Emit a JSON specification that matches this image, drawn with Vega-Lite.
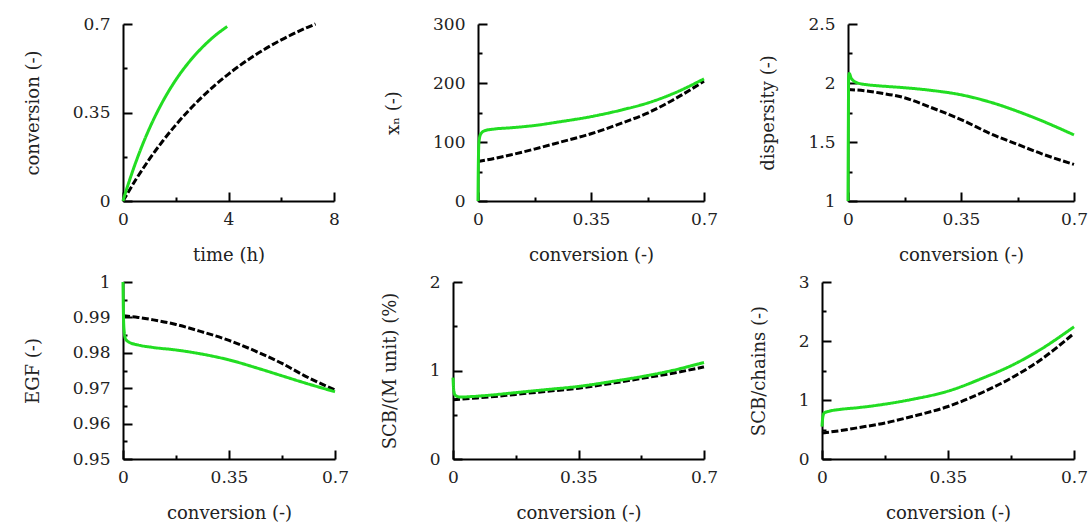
{
  "$schema": "https://vega.github.io/schema/vega-lite/v6.json",
  "padding": {"left": 24, "top": 15, "right": 0, "bottom": 0},
  "datasets": {
    "p1": [
      {"s": "det", "x": 0, "y": 0}, {"s": "det", "x": 0.5, "y": 0.0868}, {"s": "det", "x": 1, "y": 0.1653}, {"s": "det", "x": 1.5, "y": 0.2363}, {"s": "det", "x": 2, "y": 0.3006}, {"s": "det", "x": 3, "y": 0.4114}, {"s": "det", "x": 4, "y": 0.502}, {"s": "det", "x": 5, "y": 0.5763}, {"s": "det", "x": 6, "y": 0.6371}, {"s": "det", "x": 7, "y": 0.6869}, {"s": "det", "x": 7.3, "y": 0.7},
      {"s": "mc", "x": 0, "y": 0}, {"s": "mc", "x": 0.1, "y": 0.035}, {"s": "mc", "x": 0.25, "y": 0.0827}, {"s": "mc", "x": 0.5, "y": 0.1575}, {"s": "mc", "x": 0.75, "y": 0.2252}, {"s": "mc", "x": 1, "y": 0.2865}, {"s": "mc", "x": 1.5, "y": 0.392}, {"s": "mc", "x": 2, "y": 0.4785}, {"s": "mc", "x": 2.5, "y": 0.549}, {"s": "mc", "x": 3, "y": 0.607}, {"s": "mc", "x": 3.5, "y": 0.655}, {"s": "mc", "x": 3.95, "y": 0.69}
    ],
    "p2": [
      {"s": "det", "x": 0, "y": 67}, {"s": "det", "x": 0.05, "y": 72}, {"s": "det", "x": 0.1, "y": 78}, {"s": "det", "x": 0.175, "y": 88}, {"s": "det", "x": 0.25, "y": 99}, {"s": "det", "x": 0.35, "y": 114}, {"s": "det", "x": 0.45, "y": 133}, {"s": "det", "x": 0.525, "y": 149}, {"s": "det", "x": 0.6, "y": 170}, {"s": "det", "x": 0.7, "y": 203},
      {"s": "mc", "x": 0, "y": 0}, {"s": "mc", "x": 0.001, "y": 60}, {"s": "mc", "x": 0.003, "y": 100}, {"s": "mc", "x": 0.008, "y": 113}, {"s": "mc", "x": 0.02, "y": 119}, {"s": "mc", "x": 0.05, "y": 122}, {"s": "mc", "x": 0.1, "y": 124}, {"s": "mc", "x": 0.175, "y": 128}, {"s": "mc", "x": 0.25, "y": 134}, {"s": "mc", "x": 0.35, "y": 143}, {"s": "mc", "x": 0.45, "y": 155}, {"s": "mc", "x": 0.525, "y": 166}, {"s": "mc", "x": 0.6, "y": 181}, {"s": "mc", "x": 0.7, "y": 207}
    ],
    "p3": [
      {"s": "det", "x": 0, "y": 1.945}, {"s": "det", "x": 0.05, "y": 1.935}, {"s": "det", "x": 0.1, "y": 1.915}, {"s": "det", "x": 0.175, "y": 1.875}, {"s": "det", "x": 0.25, "y": 1.8}, {"s": "det", "x": 0.35, "y": 1.69}, {"s": "det", "x": 0.45, "y": 1.56}, {"s": "det", "x": 0.525, "y": 1.48}, {"s": "det", "x": 0.6, "y": 1.4}, {"s": "det", "x": 0.7, "y": 1.31},
      {"s": "mc", "x": 0, "y": 1}, {"s": "mc", "x": 0.001, "y": 1.6}, {"s": "mc", "x": 0.002, "y": 2.05}, {"s": "mc", "x": 0.004, "y": 2.08}, {"s": "mc", "x": 0.01, "y": 2.04}, {"s": "mc", "x": 0.03, "y": 2.0}, {"s": "mc", "x": 0.06, "y": 1.985}, {"s": "mc", "x": 0.1, "y": 1.975}, {"s": "mc", "x": 0.175, "y": 1.96}, {"s": "mc", "x": 0.25, "y": 1.94}, {"s": "mc", "x": 0.35, "y": 1.9}, {"s": "mc", "x": 0.45, "y": 1.83}, {"s": "mc", "x": 0.525, "y": 1.76}, {"s": "mc", "x": 0.6, "y": 1.68}, {"s": "mc", "x": 0.7, "y": 1.56}
    ],
    "p4": [
      {"s": "det", "x": 0, "y": 0.9905}, {"s": "det", "x": 0.05, "y": 0.99}, {"s": "det", "x": 0.1, "y": 0.9893}, {"s": "det", "x": 0.175, "y": 0.988}, {"s": "det", "x": 0.25, "y": 0.9862}, {"s": "det", "x": 0.35, "y": 0.9835}, {"s": "det", "x": 0.45, "y": 0.98}, {"s": "det", "x": 0.525, "y": 0.977}, {"s": "det", "x": 0.6, "y": 0.9735}, {"s": "det", "x": 0.7, "y": 0.9695},
      {"s": "mc", "x": 0, "y": 1.0}, {"s": "mc", "x": 0.001, "y": 0.993}, {"s": "mc", "x": 0.003, "y": 0.987}, {"s": "mc", "x": 0.008, "y": 0.984}, {"s": "mc", "x": 0.02, "y": 0.983}, {"s": "mc", "x": 0.05, "y": 0.9822}, {"s": "mc", "x": 0.1, "y": 0.9815}, {"s": "mc", "x": 0.175, "y": 0.9808}, {"s": "mc", "x": 0.25, "y": 0.9798}, {"s": "mc", "x": 0.35, "y": 0.978}, {"s": "mc", "x": 0.45, "y": 0.9755}, {"s": "mc", "x": 0.525, "y": 0.9735}, {"s": "mc", "x": 0.6, "y": 0.9715}, {"s": "mc", "x": 0.7, "y": 0.969}
    ],
    "p5": [
      {"s": "det", "x": 0, "y": 0.67}, {"s": "det", "x": 0.05, "y": 0.685}, {"s": "det", "x": 0.1, "y": 0.7}, {"s": "det", "x": 0.175, "y": 0.73}, {"s": "det", "x": 0.25, "y": 0.76}, {"s": "det", "x": 0.35, "y": 0.8}, {"s": "det", "x": 0.45, "y": 0.86}, {"s": "det", "x": 0.525, "y": 0.91}, {"s": "det", "x": 0.6, "y": 0.96}, {"s": "det", "x": 0.7, "y": 1.04},
      {"s": "mc", "x": 0, "y": 0.92}, {"s": "mc", "x": 0.002, "y": 0.78}, {"s": "mc", "x": 0.006, "y": 0.72}, {"s": "mc", "x": 0.02, "y": 0.7}, {"s": "mc", "x": 0.05, "y": 0.705}, {"s": "mc", "x": 0.1, "y": 0.72}, {"s": "mc", "x": 0.175, "y": 0.75}, {"s": "mc", "x": 0.25, "y": 0.78}, {"s": "mc", "x": 0.35, "y": 0.82}, {"s": "mc", "x": 0.45, "y": 0.88}, {"s": "mc", "x": 0.525, "y": 0.93}, {"s": "mc", "x": 0.6, "y": 0.99}, {"s": "mc", "x": 0.7, "y": 1.09}
    ],
    "p6": [
      {"s": "det", "x": 0, "y": 0.44}, {"s": "det", "x": 0.05, "y": 0.48}, {"s": "det", "x": 0.1, "y": 0.53}, {"s": "det", "x": 0.175, "y": 0.61}, {"s": "det", "x": 0.25, "y": 0.72}, {"s": "det", "x": 0.35, "y": 0.89}, {"s": "det", "x": 0.45, "y": 1.14}, {"s": "det", "x": 0.525, "y": 1.37}, {"s": "det", "x": 0.6, "y": 1.65}, {"s": "det", "x": 0.7, "y": 2.13},
      {"s": "mc", "x": 0, "y": 0.55}, {"s": "mc", "x": 0.002, "y": 0.7}, {"s": "mc", "x": 0.006, "y": 0.78}, {"s": "mc", "x": 0.02, "y": 0.81}, {"s": "mc", "x": 0.05, "y": 0.84}, {"s": "mc", "x": 0.1, "y": 0.87}, {"s": "mc", "x": 0.175, "y": 0.93}, {"s": "mc", "x": 0.25, "y": 1.01}, {"s": "mc", "x": 0.35, "y": 1.15}, {"s": "mc", "x": 0.45, "y": 1.38}, {"s": "mc", "x": 0.525, "y": 1.58}, {"s": "mc", "x": 0.6, "y": 1.83}, {"s": "mc", "x": 0.7, "y": 2.24}
    ]
  },
  "spacing": 9,
  "vconcat": [
    {
      "spacing": 144,
      "bounds": "flush",
      "hconcat": [
        {
          "width": 211, "height": 177,
          "data": {"name": "p1"},
          "mark": {"type": "line", "strokeWidth": 3, "interpolate": "monotone"},
          "encoding": {
            "x": {"field": "x", "type": "quantitative", "scale": {"domain": [0, 8], "nice": false},
              "axis": {"title": "time (h)", "values": [0, 2, 4, 6, 8],
                "labelExpr": "indexof([0,4,8], datum.value) >= 0 ? format(datum.value, '~g') : ''",
                "tickSize": {"condition": {"test": "indexof([0,4,8], datum.value) < 0", "value": -4}, "value": -9}}},
            "y": {"field": "y", "type": "quantitative", "scale": {"domain": [0, 0.7], "nice": false, "zero": false},
              "axis": {"title": "conversion (-)", "values": [0, 0.175, 0.35, 0.525, 0.7],
                "labelExpr": "indexof([0,0.35,0.7], datum.value) >= 0 ? format(datum.value, '~g') : ''",
                "tickSize": {"condition": {"test": "indexof([0,0.35,0.7], datum.value) < 0", "value": -4}, "value": -9}}},
            "color": {"field": "s", "type": "nominal", "scale": {"domain": ["det", "mc"], "range": ["#000000", "#22dd22"]}, "legend": null},
            "strokeDash": {"field": "s", "type": "nominal", "scale": {"domain": ["det", "mc"], "range": [[7, 2.5], [1, 0]]}, "legend": null}
          }
        },
        {
          "width": 226, "height": 177,
          "data": {"name": "p2"},
          "mark": {"type": "line", "strokeWidth": 3, "interpolate": "monotone"},
          "encoding": {
            "x": {"field": "x", "type": "quantitative", "scale": {"domain": [0, 0.7], "nice": false},
              "axis": {"title": "conversion (-)", "values": [0, 0.175, 0.35, 0.525, 0.7],
                "labelExpr": "indexof([0,0.35,0.7], datum.value) >= 0 ? format(datum.value, '~g') : ''",
                "tickSize": {"condition": {"test": "indexof([0,0.35,0.7], datum.value) < 0", "value": -4}, "value": -9}}},
            "y": {"field": "y", "type": "quantitative", "scale": {"domain": [0, 300], "nice": false, "zero": false},
              "axis": {"title": "xₙ (-)", "values": [0, 50, 100, 150, 200, 250, 300],
                "labelExpr": "indexof([0,100,200,300], datum.value) >= 0 ? format(datum.value, '~g') : ''",
                "tickSize": {"condition": {"test": "indexof([0,100,200,300], datum.value) < 0", "value": -4}, "value": -9}}},
            "color": {"field": "s", "type": "nominal", "scale": {"domain": ["det", "mc"], "range": ["#000000", "#22dd22"]}, "legend": null},
            "strokeDash": {"field": "s", "type": "nominal", "scale": {"domain": ["det", "mc"], "range": [[7, 2.5], [1, 0]]}, "legend": null}
          }
        },
        {
          "width": 226, "height": 177,
          "data": {"name": "p3"},
          "mark": {"type": "line", "strokeWidth": 3, "interpolate": "monotone"},
          "encoding": {
            "x": {"field": "x", "type": "quantitative", "scale": {"domain": [0, 0.7], "nice": false},
              "axis": {"title": "conversion (-)", "values": [0, 0.175, 0.35, 0.525, 0.7],
                "labelExpr": "indexof([0,0.35,0.7], datum.value) >= 0 ? format(datum.value, '~g') : ''",
                "tickSize": {"condition": {"test": "indexof([0,0.35,0.7], datum.value) < 0", "value": -4}, "value": -9}}},
            "y": {"field": "y", "type": "quantitative", "scale": {"domain": [1, 2.5], "nice": false, "zero": false},
              "axis": {"title": "dispersity (-)", "values": [1, 1.25, 1.5, 1.75, 2, 2.25, 2.5],
                "labelExpr": "indexof([1,1.5,2,2.5], datum.value) >= 0 ? format(datum.value, '~g') : ''",
                "tickSize": {"condition": {"test": "indexof([1,1.5,2,2.5], datum.value) < 0", "value": -4}, "value": -9}}},
            "color": {"field": "s", "type": "nominal", "scale": {"domain": ["det", "mc"], "range": ["#000000", "#22dd22"]}, "legend": null},
            "strokeDash": {"field": "s", "type": "nominal", "scale": {"domain": ["det", "mc"], "range": [[7, 2.5], [1, 0]]}, "legend": null}
          }
        }
      ]
    },
    {
      "spacing": 118,
      "bounds": "flush",
      "hconcat": [
        {
          "width": 212, "height": 177,
          "data": {"name": "p4"},
          "mark": {"type": "line", "strokeWidth": 3, "interpolate": "monotone"},
          "encoding": {
            "x": {"field": "x", "type": "quantitative", "scale": {"domain": [0, 0.7], "nice": false},
              "axis": {"title": "conversion (-)", "values": [0, 0.175, 0.35, 0.525, 0.7],
                "labelExpr": "indexof([0,0.35,0.7], datum.value) >= 0 ? format(datum.value, '~g') : ''",
                "tickSize": {"condition": {"test": "indexof([0,0.35,0.7], datum.value) < 0", "value": -4}, "value": -9}}},
            "y": {"field": "y", "type": "quantitative", "scale": {"domain": [0.95, 1], "nice": false, "zero": false},
              "axis": {"title": "EGF (-)", "values": [0.95, 0.955, 0.96, 0.965, 0.97, 0.975, 0.98, 0.985, 0.99, 0.995, 1],
                "labelExpr": "indexof([0.95,0.96,0.97,0.98,0.99,1], datum.value) >= 0 ? format(datum.value, '~g') : ''",
                "tickSize": {"condition": {"test": "indexof([0.95,0.96,0.97,0.98,0.99,1], datum.value) < 0", "value": -4}, "value": -9}}},
            "color": {"field": "s", "type": "nominal", "scale": {"domain": ["det", "mc"], "range": ["#000000", "#22dd22"]}, "legend": null},
            "strokeDash": {"field": "s", "type": "nominal", "scale": {"domain": ["det", "mc"], "range": [[7, 2.5], [1, 0]]}, "legend": null}
          }
        },
        {
          "width": 251, "height": 177,
          "data": {"name": "p5"},
          "mark": {"type": "line", "strokeWidth": 3, "interpolate": "monotone"},
          "encoding": {
            "x": {"field": "x", "type": "quantitative", "scale": {"domain": [0, 0.7], "nice": false},
              "axis": {"title": "conversion (-)", "values": [0, 0.175, 0.35, 0.525, 0.7],
                "labelExpr": "indexof([0,0.35,0.7], datum.value) >= 0 ? format(datum.value, '~g') : ''",
                "tickSize": {"condition": {"test": "indexof([0,0.35,0.7], datum.value) < 0", "value": -4}, "value": -9}}},
            "y": {"field": "y", "type": "quantitative", "scale": {"domain": [0, 2], "nice": false, "zero": false},
              "axis": {"title": "SCB/(M unit) (%)", "values": [0, 0.5, 1, 1.5, 2],
                "labelExpr": "indexof([0,1,2], datum.value) >= 0 ? format(datum.value, '~g') : ''",
                "tickSize": {"condition": {"test": "indexof([0,1,2], datum.value) < 0", "value": -4}, "value": -9}}},
            "color": {"field": "s", "type": "nominal", "scale": {"domain": ["det", "mc"], "range": ["#000000", "#22dd22"]}, "legend": null},
            "strokeDash": {"field": "s", "type": "nominal", "scale": {"domain": ["det", "mc"], "range": [[7, 2.5], [1, 0]]}, "legend": null}
          }
        },
        {
          "width": 252, "height": 177,
          "data": {"name": "p6"},
          "mark": {"type": "line", "strokeWidth": 3, "interpolate": "monotone"},
          "encoding": {
            "x": {"field": "x", "type": "quantitative", "scale": {"domain": [0, 0.7], "nice": false},
              "axis": {"title": "conversion (-)", "values": [0, 0.175, 0.35, 0.525, 0.7],
                "labelExpr": "indexof([0,0.35,0.7], datum.value) >= 0 ? format(datum.value, '~g') : ''",
                "tickSize": {"condition": {"test": "indexof([0,0.35,0.7], datum.value) < 0", "value": -4}, "value": -9}}},
            "y": {"field": "y", "type": "quantitative", "scale": {"domain": [0, 3], "nice": false, "zero": false},
              "axis": {"title": "SCB/chains (-)", "values": [0, 0.5, 1, 1.5, 2, 2.5, 3],
                "labelExpr": "indexof([0,1,2,3], datum.value) >= 0 ? format(datum.value, '~g') : ''",
                "tickSize": {"condition": {"test": "indexof([0,1,2,3], datum.value) < 0", "value": -4}, "value": -9}}},
            "color": {"field": "s", "type": "nominal", "scale": {"domain": ["det", "mc"], "range": ["#000000", "#22dd22"]}, "legend": null},
            "strokeDash": {"field": "s", "type": "nominal", "scale": {"domain": ["det", "mc"], "range": [[7, 2.5], [1, 0]]}, "legend": null}
          }
        }
      ]
    }
  ],
  "config": {
    "view": {"stroke": null},
    "font": "DejaVu Serif",
    "axis": {
      "grid": false,
      "domainColor": "#000000", "domainWidth": 2,
      "tickColor": "#000000", "tickWidth": 2,
      "labelFont": "DejaVu Serif", "labelFontSize": 17, "labelColor": "#222222",
      "titleFont": "DejaVu Serif", "titleFontSize": 18, "titleFontWeight": "normal", "titleColor": "#222222",
      "labelFlush": false, "labelOverlap": false
    },
    "axisX": {"labelPadding": 19, "titlePadding": 14},
    "axisY": {"labelPadding": 22, "titlePadding": 30}
  }
}
